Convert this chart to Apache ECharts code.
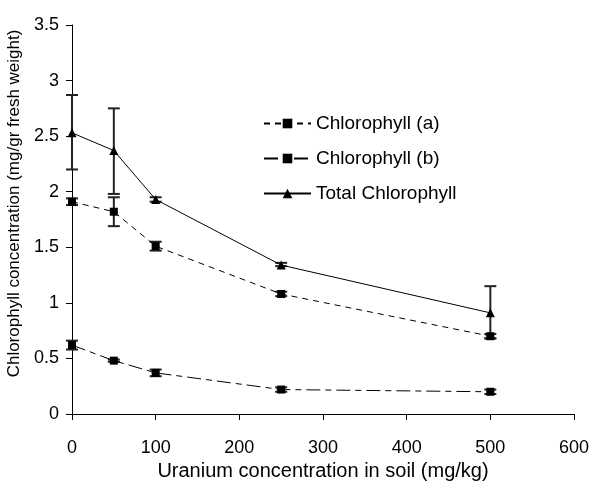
<!DOCTYPE html>
<html><head><meta charset="utf-8">
<script src="https://cdn.jsdelivr.net/npm/echarts@6/dist/echarts.min.js"></script>
<style>html,body{margin:0;padding:0;background:#fff}#c{width:589px;height:481px}</style>
</head><body><div id="c"></div>
<script>
const xValues = [0, 50, 100, 250, 500];
const chlA = [1.91, 1.82, 1.51, 1.08, 0.70];
const chlAErr = [0.03, 0.13, 0.04, 0.02, 0.02];
const chlB = [0.62, 0.48, 0.37, 0.22, 0.20];
const chlBErr = [0.04, 0.01, 0.03, 0.02, 0.02];
const total = [2.53, 2.37, 1.93, 1.34, 0.91];
const totalLow = [2.20, 1.98, 1.91, 1.33, 0.68];
const totalHigh = [2.87, 2.75, 1.95, 1.36, 1.15];
const seriesNames = ['Chlorophyll (a)', 'Chlorophyll (b)', 'Total Chlorophyll'];
const xTicks = [0, 100, 200, 300, 400, 500, 600];
const yTicks = [0, 0.5, 1, 1.5, 2, 2.5, 3, 3.5];

const FONT = '"Liberation Sans", Arial, sans-serif';
function pairs(vals){ return xValues.map((x,i)=>[x, vals[i]]); }
function errData(lo, hi){ return xValues.map((x,i)=>[x, lo[i], hi[i]]); }
function errRender(params, api){
  const x = api.value(0);
  const lo = api.coord([x, api.value(1)]);
  const hi = api.coord([x, api.value(2)]);
  const w = 6;
  const st = {stroke:'#222', lineWidth:2, fill:null};
  return {type:'group', children:[
    {type:'line', shape:{x1:lo[0],y1:lo[1],x2:hi[0],y2:hi[1]}, style:st},
    {type:'line', shape:{x1:lo[0]-w,y1:lo[1],x2:lo[0]+w,y2:lo[1]}, style:st},
    {type:'line', shape:{x1:hi[0]-w,y1:hi[1],x2:hi[0]+w,y2:hi[1]}, style:st}
  ]};
}
const chart = echarts.init(document.getElementById('c'), null, {renderer:'canvas'});
chart.setOption({
  animation:false,
  backgroundColor:'#fff',
  textStyle:{fontFamily:FONT},
  grid:{left:72, right:15, top:25, bottom:67, containLabel:false, outerBoundsMode:'none'},
  legend:{
    orient:'vertical', left:263, top:114, padding:0, itemGap:16, itemWidth:47, itemHeight:12,
    data:seriesNames,
    textStyle:{fontSize:19, color:'#000', fontFamily:FONT}
  },
  xAxis:{
    type:'value', min:xTicks[0], max:xTicks[xTicks.length-1], interval:100,
    name:'Uranium concentration in soil (mg/kg)', nameLocation:'middle', nameGap:46,
    nameTextStyle:{fontSize:20, color:'#000', fontFamily:FONT},
    axisLine:{lineStyle:{color:'#000', width:1}},
    axisTick:{show:true, length:6, lineStyle:{color:'#000'}},
    axisLabel:{fontSize:18, color:'#000', margin:25, fontFamily:FONT},
    splitLine:{show:false}
  },
  yAxis:{
    type:'value', min:yTicks[0], max:yTicks[yTicks.length-1], interval:0.5,
    name:'Chlorophyll concentration (mg/gr fresh weight)', nameLocation:'middle', nameGap:45,
    nameTruncate:{maxWidth:600},
    nameTextStyle:{fontSize:17, color:'#000', fontFamily:FONT, overflow:'none', width:600, padding:[0,0,0,32]},
    axisLine:{show:true, lineStyle:{color:'#000', width:1}},
    axisTick:{show:true, length:6, lineStyle:{color:'#000'}},
    axisLabel:{fontSize:18, color:'#000', margin:13, fontFamily:FONT},
    splitLine:{show:false}
  },
  series:[
    {name:seriesNames[0], type:'line', data:pairs(chlA), symbol:'rect', symbolSize:8,
     itemStyle:{color:'#000'}, lineStyle:{color:'#000', width:1, type:[6,5]}, z:3},
    {name:seriesNames[1], type:'line', data:pairs(chlB), symbol:'rect', symbolSize:8,
     itemStyle:{color:'#000'}, lineStyle:{color:'#000', width:1, type:[14,5,6,5]}, z:3},
    {name:seriesNames[2], type:'line', data:pairs(total), symbol:'triangle', symbolSize:9,
     itemStyle:{color:'#000'}, lineStyle:{color:'#000', width:1, type:'solid'}, z:3},
    {type:'custom', renderItem:errRender, data:errData(chlA.map((v,i)=>v-chlAErr[i]), chlA.map((v,i)=>v+chlAErr[i])), encode:{x:0,y:[1,2]}, z:2, silent:true},
    {type:'custom', renderItem:errRender, data:errData(chlB.map((v,i)=>v-chlBErr[i]), chlB.map((v,i)=>v+chlBErr[i])), encode:{x:0,y:[1,2]}, z:2, silent:true},
    {type:'custom', renderItem:errRender, data:errData(totalLow, totalHigh), encode:{x:0,y:[1,2]}, z:2, silent:true}
  ]
});
</script></body></html>
